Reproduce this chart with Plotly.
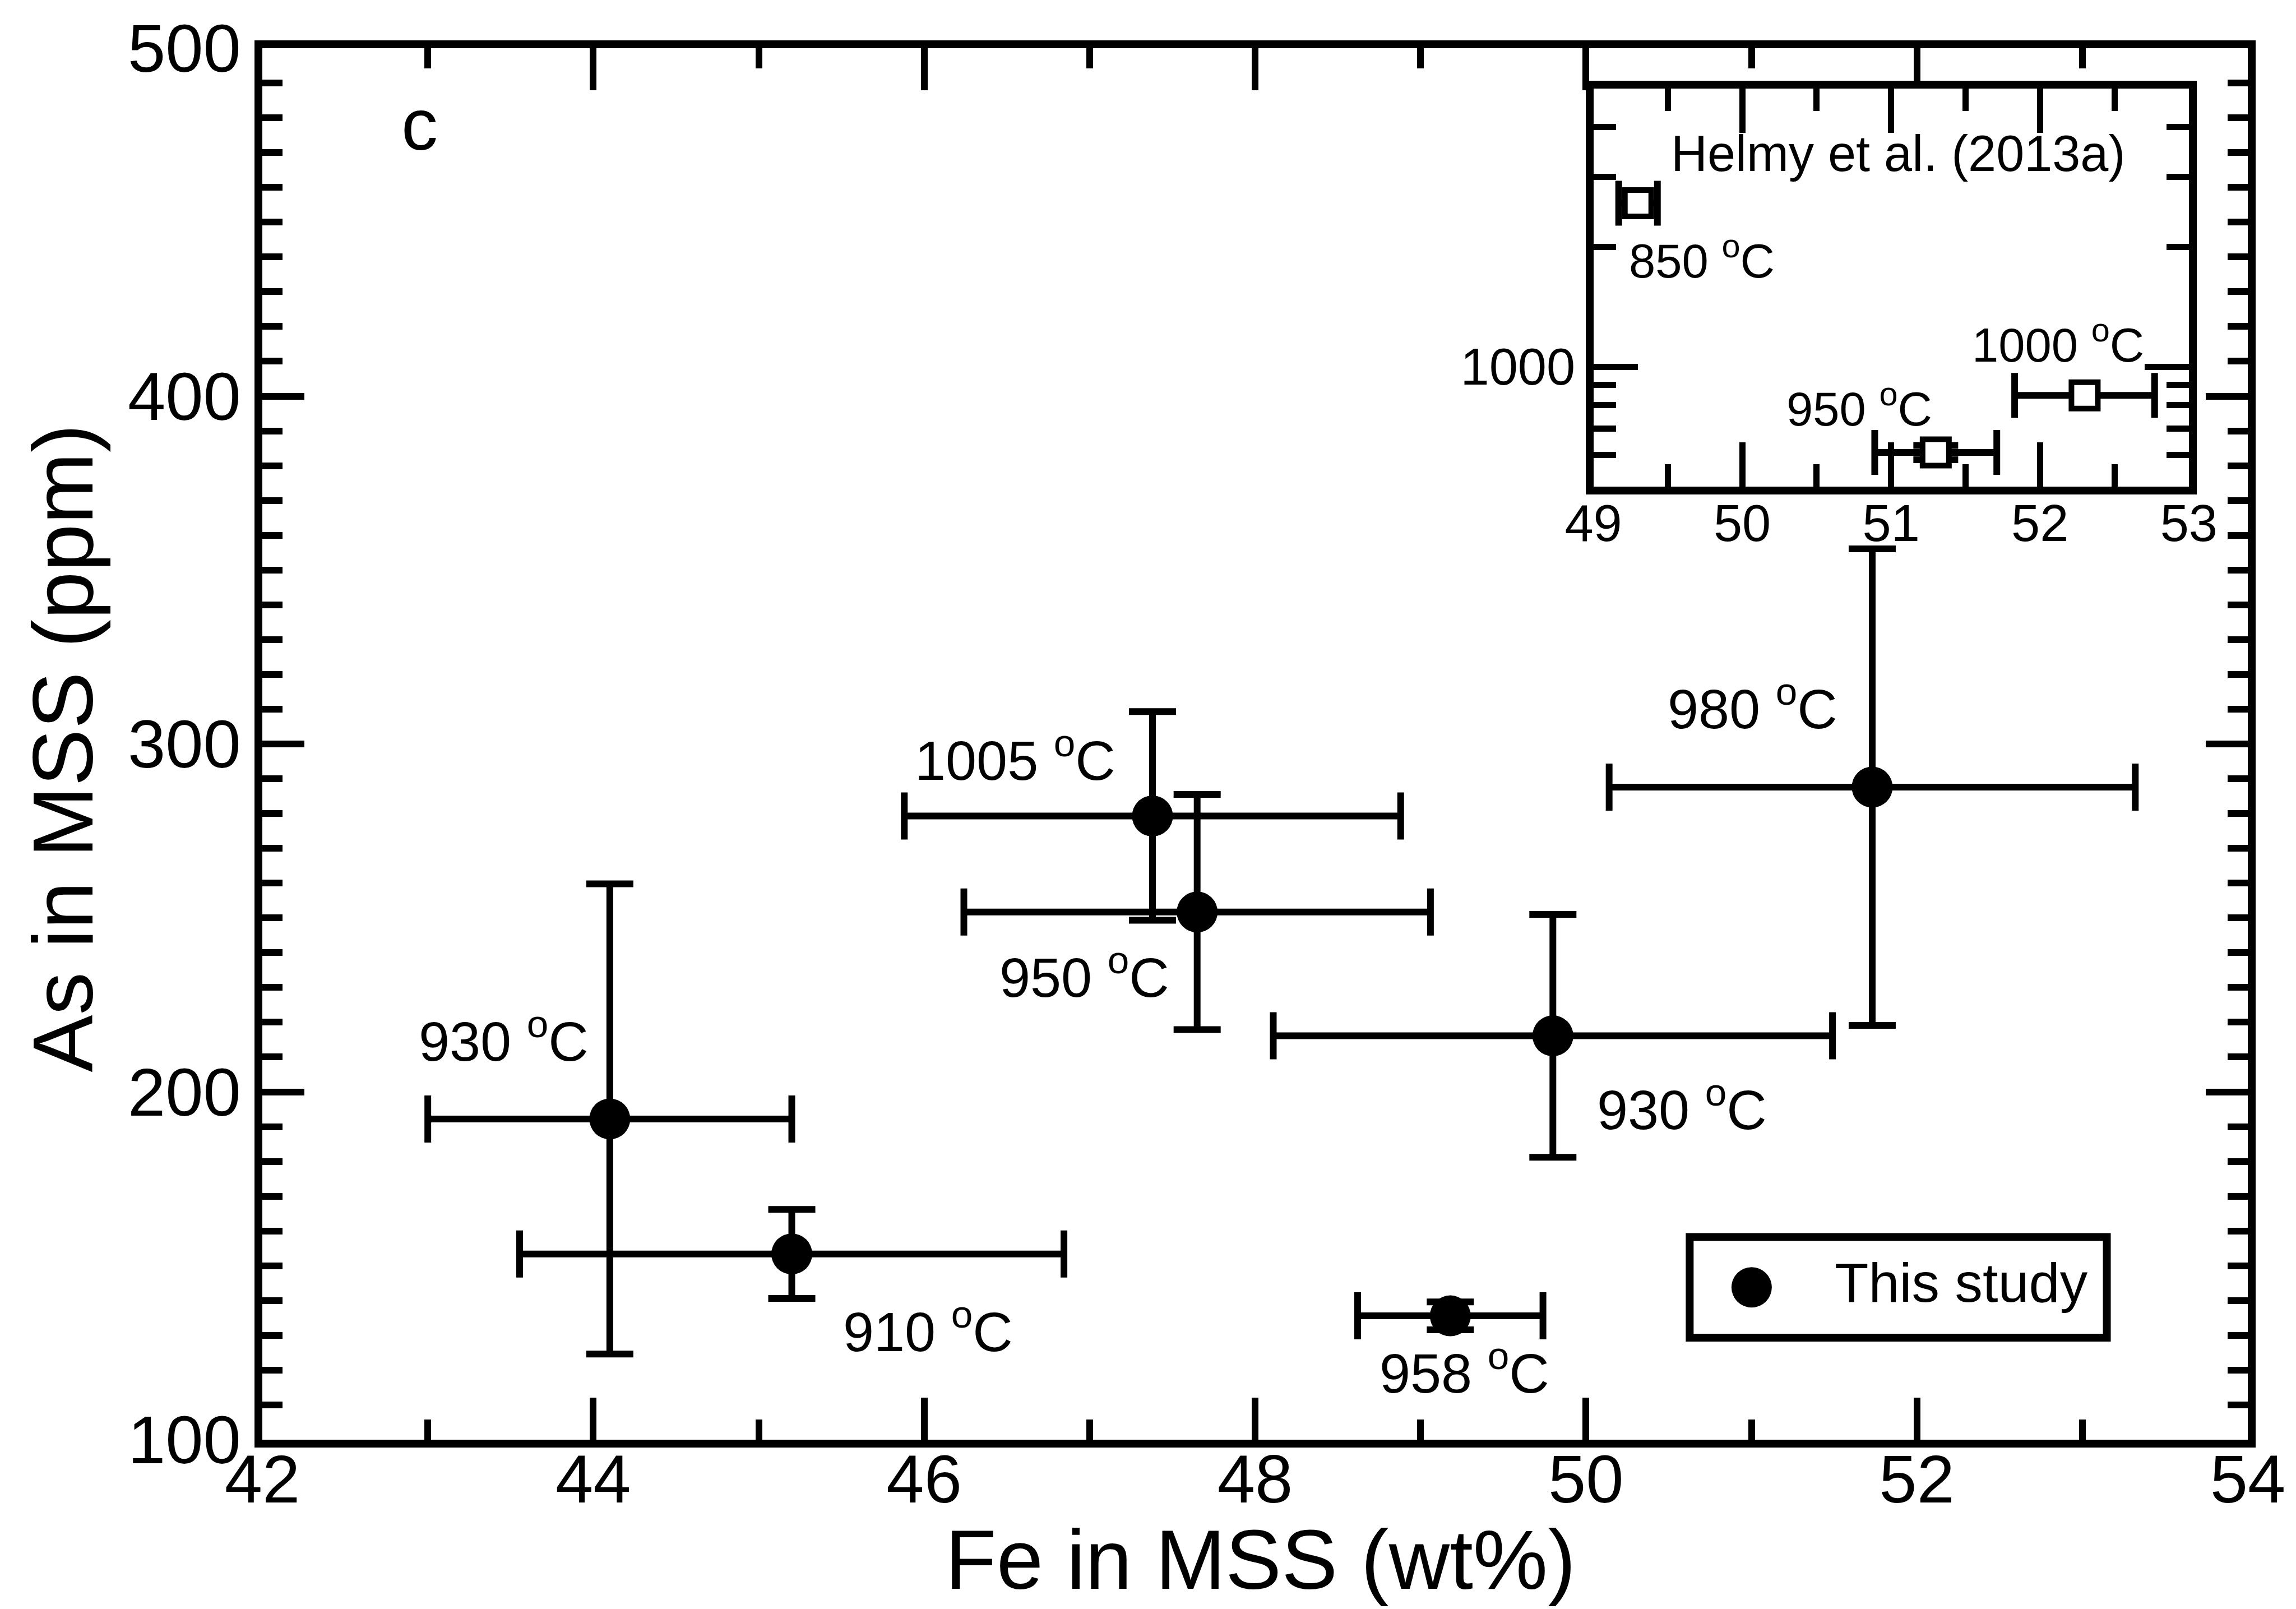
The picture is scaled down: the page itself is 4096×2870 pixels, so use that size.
import math
import plotly.graph_objects as go

# ---------------- data: this study (main panel) ----------------
fe_wt = [44.10, 45.20, 47.38, 47.65, 49.80, 51.73, 49.18]
fe_err = [1.10, 1.645, 1.50, 1.41, 1.69, 1.59, 0.56]
as_ppm = [192.2, 153.4, 279.3, 251.7, 216.1, 287.6, 135.6]
as_err = [67.6, 12.8, 30.0, 33.8, 34.9, 68.5, 4.0]
temps = ["930", "910", "1005", "950", "930", "980", "958"]
# label anchor (x centre, y baseline) in data units
label_x = [43.458, 46.024, 46.55, 46.97, 50.58, 51.007, 49.265]
label_y = [208.8, 125.3, 289.6, 227.2, 189.1, 304.3, 113.3]

# ---------------- data: Helmy et al. (2013a) (inset) ----------------
helmy_temps = ["950", "1000", "850"]
helmy_fe = [51.30, 52.30, 49.30]
helmy_fe_err = [0.41, 0.47, 0.13]
helmy_as = [609, 847, 2575]
helmy_as_err = [25]          # only the 950 °C point carries a visible y error
helmy_label_x = [50.787, 52.123, 49.728]
helmy_label_y = [709, 1025, 1667]

x_main_ticks = [42, 44, 46, 48, 50, 52, 54]
y_main_ticks = [100, 200, 300, 400, 500]
x_inset_ticks = [49, 50, 51, 52, 53]
y_inset_ticks = [1000]
y_inset_minor = [600, 700, 800, 900, 2000, 3000, 4000]

FONT = "Liberation Sans"
BLACK = "black"

fig = go.Figure()

fig.add_trace(go.Scatter(
    x=fe_wt, y=as_ppm, mode="markers", name="This study", showlegend=False,
    marker=dict(symbol="circle", size=73, color=BLACK, line=dict(width=0)),
    error_x=dict(type="data", array=fe_err, thickness=12, width=42, color=BLACK),
    error_y=dict(type="data", array=as_err, thickness=12, width=42, color=BLACK),
    xaxis="x", yaxis="y",
))

fig.add_trace(go.Scatter(
    x=helmy_fe, y=helmy_as, mode="markers", name="Helmy et al. (2013a)", showlegend=False,
    marker=dict(symbol="square", size=47, color="white", line=dict(width=10, color=BLACK)),
    error_x=dict(type="data", array=helmy_fe_err, thickness=12, width=40, color=BLACK),
    error_y=dict(type="data", array=helmy_as_err, thickness=12, width=40, color=BLACK),
    xaxis="x2", yaxis="y2",
))

main_axis = dict(
    showline=True, linewidth=14, linecolor=BLACK, mirror="allticks",
    ticks="inside", tickwidth=12, tickcolor=BLACK, ticklen=75,
    showgrid=False, zeroline=False,
    tickfont=dict(family=FONT, size=121, color=BLACK),
)
inset_axis = dict(
    showline=True, linewidth=14, linecolor=BLACK, mirror="allticks",
    ticks="inside", tickwidth=11, tickcolor=BLACK, ticklen=79,
    showgrid=False, zeroline=False,
    tickfont=dict(family=FONT, size=92, color=BLACK),
)

fig.update_layout(
    width=4096, height=2870,
    margin=dict(l=468, r=86, t=86, b=302, pad=0),
    paper_bgcolor="white", plot_bgcolor="white",
    showlegend=False,
    xaxis=dict(**main_axis, domain=[0, 1], range=[42, 54], anchor="y",
               tickmode="array", tickvals=x_main_ticks, ticklabelstandoff=-47,
               minor=dict(dtick=1, tick0=42, ticks="inside", ticklen=36, tickwidth=12, tickcolor=BLACK)),
    yaxis=dict(**main_axis, domain=[0, 1], range=[100, 500], anchor="x",
               tickmode="array", tickvals=y_main_ticks,
               minor=dict(dtick=10, tick0=100, ticks="inside", ticklen=36, tickwidth=12, tickcolor=BLACK)),
    xaxis2=dict(**inset_axis, domain=[0.6704, 0.9703], range=[49, 53], anchor="y2",
                tickmode="array", tickvals=x_inset_ticks, ticklabelstandoff=-27,
                minor=dict(dtick=0.5, tick0=49, ticks="inside", ticklen=40, tickwidth=11, tickcolor=BLACK)),
    yaxis2=dict(**inset_axis, domain=[0.6850, 0.9711], type="log",
                range=[math.log10(500), math.log10(5000)], anchor="x2",
                tickmode="array", tickvals=y_inset_ticks, ticktext=[str(v) for v in y_inset_ticks],
                minor=dict(tickmode="array", tickvals=y_inset_minor, ticks="inside",
                           ticklen=40, tickwidth=11, tickcolor=BLACK)),
)

ann = []
FS_LAB = 99
for t, lx, ly in zip(temps, label_x, label_y):
    ann.append(dict(text=f"{t} <sup>o</sup>C", x=lx, y=ly, xref="x", yref="y",
                    xanchor="center", yanchor="bottom", yshift=-(0.212 * FS_LAB + 1),
                    showarrow=False, font=dict(family=FONT, size=FS_LAB, color=BLACK)))
FS_IN = 85
for t, lx, ly in zip(helmy_temps, helmy_label_x, helmy_label_y):
    ann.append(dict(text=f"{t} <sup>o</sup>C", x=lx, y=math.log10(ly), xref="x2", yref="y2",
                    xanchor="center", yanchor="bottom", yshift=-(0.212 * FS_IN + 1),
                    showarrow=False, font=dict(family=FONT, size=FS_IN, color=BLACK)))
ann.append(dict(text="Helmy et al. (2013a)", x=51.047, y=math.log10(3097), xref="x2", yref="y2",
                xanchor="center", yanchor="bottom", yshift=-(0.212 * 90 + 1),
                showarrow=False, font=dict(family=FONT, size=90, color=BLACK)))
# panel letter
ann.append(dict(text="c", x=0.0792, y=0.92666, xref="paper", yref="paper",
                xanchor="center", yanchor="bottom", yshift=-(0.212 * 130 + 1),
                showarrow=False, font=dict(family=FONT, size=130, color=BLACK)))
# axis titles
ann.append(dict(text="Fe in MSS (wt%)", x=0.5026, y=-0.11036, xref="paper", yref="paper",
                xanchor="center", yanchor="bottom", yshift=-(0.212 * 150 + 1) + 7,
                showarrow=False, font=dict(family=FONT, size=150, color=BLACK)))
ann.append(dict(text="As in MSS (ppm)", x=-0.08551, y=0.497, xref="paper", yref="paper",
                textangle=-90, xanchor="right", yanchor="middle", xshift=(0.212 * 153 + 1),
                showarrow=False, font=dict(family=FONT, size=153, color=BLACK)))
# legend text
ann.append(dict(text="This study", x=0.79146, y=0.09884, xref="paper", yref="paper",
                xanchor="left", yanchor="bottom", yshift=-(0.212 * 99 + 1),
                showarrow=False, font=dict(family=FONT, size=99, color=BLACK)))
fig.update_layout(annotations=ann)

# legend frame and symbol
fig.add_shape(type="rect", xref="paper", yref="paper", x0=0.7189, x1=0.9290, y0=0.07337, y1=0.1456,
              line=dict(color=BLACK, width=14), fillcolor="white", layer="above")
fig.add_shape(type="circle", xref="paper", yref="paper",
              x0=0.7501 - 0.01016, x1=0.7501 + 0.01016, y0=0.10947 - 0.0145, y1=0.10947 + 0.0145,
              line=dict(color=BLACK, width=0), fillcolor=BLACK, layer="above")

fig.write_html("out.html")
